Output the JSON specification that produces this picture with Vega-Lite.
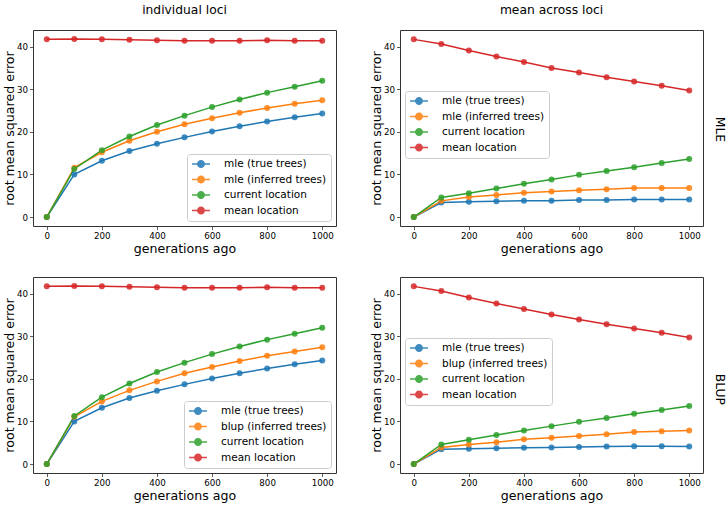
{
  "$schema": "https://vega.github.io/schema/vega-lite/v6.json",
  "padding": {"left": 2, "top": 3, "right": 0, "bottom": 0},
  "config": {
    "font": "DejaVu Sans",
    "view": {"stroke": "#333", "strokeWidth": 1},
    "axis": {"grid": false, "domain": false, "tickColor": "#333", "tickSize": 3.5, "tickWidth": 0.8, "labelFontSize": 8.7, "labelColor": "#000", "labelPadding": 2, "titleFontSize": 12.6, "titleFontWeight": "normal", "titleColor": "#000", "labelFlush": false, "format": "d"},
    "axisX": {"titlePadding": 2},
    "axisY": {"titlePadding": 0},
    "title": {"fontSize": 12.3, "fontWeight": "normal", "offset": 13.7, "color": "#000"},
    "legend": {"fillColor": "white", "strokeColor": "#cccccc", "cornerRadius": 3, "padding": 4, "labelFontSize": 10.5, "labelColor": "#000", "symbolType": "M-1.8,0L1.8,0M-0.65,0A0.65,0.65,0,1,0,0.65,0A0.65,0.65,0,1,0,-0.65,0Z", "symbolSize": 100, "symbolStrokeWidth": 1.5, "symbolOffset": 4, "labelOffset": 17, "rowPadding": 1.5}
  },
  "datasets": {
    "a": [
      {"gen":0,"rmse":0,"series":"mle (true trees)"},{"gen":100,"rmse":10.0,"series":"mle (true trees)"},{"gen":200,"rmse":13.2,"series":"mle (true trees)"},{"gen":300,"rmse":15.5,"series":"mle (true trees)"},{"gen":400,"rmse":17.2,"series":"mle (true trees)"},{"gen":500,"rmse":18.7,"series":"mle (true trees)"},{"gen":600,"rmse":20.1,"series":"mle (true trees)"},{"gen":700,"rmse":21.3,"series":"mle (true trees)"},{"gen":800,"rmse":22.4,"series":"mle (true trees)"},{"gen":900,"rmse":23.4,"series":"mle (true trees)"},{"gen":1000,"rmse":24.3,"series":"mle (true trees)"},
      {"gen":0,"rmse":0,"series":"mle (inferred trees)"},{"gen":100,"rmse":11.6,"series":"mle (inferred trees)"},{"gen":200,"rmse":15.2,"series":"mle (inferred trees)"},{"gen":300,"rmse":17.9,"series":"mle (inferred trees)"},{"gen":400,"rmse":20.0,"series":"mle (inferred trees)"},{"gen":500,"rmse":21.8,"series":"mle (inferred trees)"},{"gen":600,"rmse":23.2,"series":"mle (inferred trees)"},{"gen":700,"rmse":24.5,"series":"mle (inferred trees)"},{"gen":800,"rmse":25.6,"series":"mle (inferred trees)"},{"gen":900,"rmse":26.6,"series":"mle (inferred trees)"},{"gen":1000,"rmse":27.4,"series":"mle (inferred trees)"},
      {"gen":0,"rmse":0,"series":"current location"},{"gen":100,"rmse":11.3,"series":"current location"},{"gen":200,"rmse":15.7,"series":"current location"},{"gen":300,"rmse":18.9,"series":"current location"},{"gen":400,"rmse":21.6,"series":"current location"},{"gen":500,"rmse":23.8,"series":"current location"},{"gen":600,"rmse":25.8,"series":"current location"},{"gen":700,"rmse":27.6,"series":"current location"},{"gen":800,"rmse":29.2,"series":"current location"},{"gen":900,"rmse":30.6,"series":"current location"},{"gen":1000,"rmse":32.0,"series":"current location"},
      {"gen":0,"rmse":41.7,"series":"mean location"},{"gen":100,"rmse":41.8,"series":"mean location"},{"gen":200,"rmse":41.7,"series":"mean location"},{"gen":300,"rmse":41.6,"series":"mean location"},{"gen":400,"rmse":41.5,"series":"mean location"},{"gen":500,"rmse":41.4,"series":"mean location"},{"gen":600,"rmse":41.4,"series":"mean location"},{"gen":700,"rmse":41.4,"series":"mean location"},{"gen":800,"rmse":41.5,"series":"mean location"},{"gen":900,"rmse":41.4,"series":"mean location"},{"gen":1000,"rmse":41.4,"series":"mean location"}
    ],
    "b": [
      {"gen":0,"rmse":0,"series":"mle (true trees)"},{"gen":100,"rmse":3.4,"series":"mle (true trees)"},{"gen":200,"rmse":3.6,"series":"mle (true trees)"},{"gen":300,"rmse":3.7,"series":"mle (true trees)"},{"gen":400,"rmse":3.8,"series":"mle (true trees)"},{"gen":500,"rmse":3.8,"series":"mle (true trees)"},{"gen":600,"rmse":4.0,"series":"mle (true trees)"},{"gen":700,"rmse":4.0,"series":"mle (true trees)"},{"gen":800,"rmse":4.1,"series":"mle (true trees)"},{"gen":900,"rmse":4.1,"series":"mle (true trees)"},{"gen":1000,"rmse":4.1,"series":"mle (true trees)"},
      {"gen":0,"rmse":0,"series":"mle (inferred trees)"},{"gen":100,"rmse":3.8,"series":"mle (inferred trees)"},{"gen":200,"rmse":4.7,"series":"mle (inferred trees)"},{"gen":300,"rmse":5.2,"series":"mle (inferred trees)"},{"gen":400,"rmse":5.7,"series":"mle (inferred trees)"},{"gen":500,"rmse":6.0,"series":"mle (inferred trees)"},{"gen":600,"rmse":6.3,"series":"mle (inferred trees)"},{"gen":700,"rmse":6.5,"series":"mle (inferred trees)"},{"gen":800,"rmse":6.8,"series":"mle (inferred trees)"},{"gen":900,"rmse":6.8,"series":"mle (inferred trees)"},{"gen":1000,"rmse":6.8,"series":"mle (inferred trees)"},
      {"gen":0,"rmse":0,"series":"current location"},{"gen":100,"rmse":4.6,"series":"current location"},{"gen":200,"rmse":5.6,"series":"current location"},{"gen":300,"rmse":6.7,"series":"current location"},{"gen":400,"rmse":7.8,"series":"current location"},{"gen":500,"rmse":8.8,"series":"current location"},{"gen":600,"rmse":9.9,"series":"current location"},{"gen":700,"rmse":10.8,"series":"current location"},{"gen":800,"rmse":11.7,"series":"current location"},{"gen":900,"rmse":12.7,"series":"current location"},{"gen":1000,"rmse":13.6,"series":"current location"},
      {"gen":0,"rmse":41.7,"series":"mean location"},{"gen":100,"rmse":40.6,"series":"mean location"},{"gen":200,"rmse":39.1,"series":"mean location"},{"gen":300,"rmse":37.7,"series":"mean location"},{"gen":400,"rmse":36.4,"series":"mean location"},{"gen":500,"rmse":35.0,"series":"mean location"},{"gen":600,"rmse":33.9,"series":"mean location"},{"gen":700,"rmse":32.8,"series":"mean location"},{"gen":800,"rmse":31.8,"series":"mean location"},{"gen":900,"rmse":30.8,"series":"mean location"},{"gen":1000,"rmse":29.7,"series":"mean location"}
    ],
    "c": [
      {"gen":0,"rmse":0,"series":"mle (true trees)"},{"gen":100,"rmse":10.0,"series":"mle (true trees)"},{"gen":200,"rmse":13.2,"series":"mle (true trees)"},{"gen":300,"rmse":15.5,"series":"mle (true trees)"},{"gen":400,"rmse":17.2,"series":"mle (true trees)"},{"gen":500,"rmse":18.7,"series":"mle (true trees)"},{"gen":600,"rmse":20.1,"series":"mle (true trees)"},{"gen":700,"rmse":21.3,"series":"mle (true trees)"},{"gen":800,"rmse":22.4,"series":"mle (true trees)"},{"gen":900,"rmse":23.4,"series":"mle (true trees)"},{"gen":1000,"rmse":24.3,"series":"mle (true trees)"},
      {"gen":0,"rmse":0,"series":"blup (inferred trees)"},{"gen":100,"rmse":11.1,"series":"blup (inferred trees)"},{"gen":200,"rmse":14.7,"series":"blup (inferred trees)"},{"gen":300,"rmse":17.3,"series":"blup (inferred trees)"},{"gen":400,"rmse":19.4,"series":"blup (inferred trees)"},{"gen":500,"rmse":21.3,"series":"blup (inferred trees)"},{"gen":600,"rmse":22.8,"series":"blup (inferred trees)"},{"gen":700,"rmse":24.2,"series":"blup (inferred trees)"},{"gen":800,"rmse":25.4,"series":"blup (inferred trees)"},{"gen":900,"rmse":26.4,"series":"blup (inferred trees)"},{"gen":1000,"rmse":27.4,"series":"blup (inferred trees)"},
      {"gen":0,"rmse":0,"series":"current location"},{"gen":100,"rmse":11.3,"series":"current location"},{"gen":200,"rmse":15.7,"series":"current location"},{"gen":300,"rmse":18.9,"series":"current location"},{"gen":400,"rmse":21.6,"series":"current location"},{"gen":500,"rmse":23.8,"series":"current location"},{"gen":600,"rmse":25.8,"series":"current location"},{"gen":700,"rmse":27.6,"series":"current location"},{"gen":800,"rmse":29.2,"series":"current location"},{"gen":900,"rmse":30.6,"series":"current location"},{"gen":1000,"rmse":32.0,"series":"current location"},
      {"gen":0,"rmse":41.7,"series":"mean location"},{"gen":100,"rmse":41.8,"series":"mean location"},{"gen":200,"rmse":41.7,"series":"mean location"},{"gen":300,"rmse":41.6,"series":"mean location"},{"gen":400,"rmse":41.5,"series":"mean location"},{"gen":500,"rmse":41.4,"series":"mean location"},{"gen":600,"rmse":41.4,"series":"mean location"},{"gen":700,"rmse":41.4,"series":"mean location"},{"gen":800,"rmse":41.5,"series":"mean location"},{"gen":900,"rmse":41.4,"series":"mean location"},{"gen":1000,"rmse":41.4,"series":"mean location"}
    ],
    "d": [
      {"gen":0,"rmse":0,"series":"mle (true trees)"},{"gen":100,"rmse":3.5,"series":"mle (true trees)"},{"gen":200,"rmse":3.6,"series":"mle (true trees)"},{"gen":300,"rmse":3.7,"series":"mle (true trees)"},{"gen":400,"rmse":3.8,"series":"mle (true trees)"},{"gen":500,"rmse":3.9,"series":"mle (true trees)"},{"gen":600,"rmse":4.0,"series":"mle (true trees)"},{"gen":700,"rmse":4.1,"series":"mle (true trees)"},{"gen":800,"rmse":4.2,"series":"mle (true trees)"},{"gen":900,"rmse":4.2,"series":"mle (true trees)"},{"gen":1000,"rmse":4.1,"series":"mle (true trees)"},
      {"gen":0,"rmse":0,"series":"blup (inferred trees)"},{"gen":100,"rmse":3.9,"series":"blup (inferred trees)"},{"gen":200,"rmse":4.6,"series":"blup (inferred trees)"},{"gen":300,"rmse":5.1,"series":"blup (inferred trees)"},{"gen":400,"rmse":5.8,"series":"blup (inferred trees)"},{"gen":500,"rmse":6.2,"series":"blup (inferred trees)"},{"gen":600,"rmse":6.6,"series":"blup (inferred trees)"},{"gen":700,"rmse":7.0,"series":"blup (inferred trees)"},{"gen":800,"rmse":7.5,"series":"blup (inferred trees)"},{"gen":900,"rmse":7.7,"series":"blup (inferred trees)"},{"gen":1000,"rmse":7.9,"series":"blup (inferred trees)"},
      {"gen":0,"rmse":0,"series":"current location"},{"gen":100,"rmse":4.6,"series":"current location"},{"gen":200,"rmse":5.7,"series":"current location"},{"gen":300,"rmse":6.8,"series":"current location"},{"gen":400,"rmse":7.9,"series":"current location"},{"gen":500,"rmse":8.9,"series":"current location"},{"gen":600,"rmse":9.9,"series":"current location"},{"gen":700,"rmse":10.8,"series":"current location"},{"gen":800,"rmse":11.8,"series":"current location"},{"gen":900,"rmse":12.7,"series":"current location"},{"gen":1000,"rmse":13.6,"series":"current location"},
      {"gen":0,"rmse":41.7,"series":"mean location"},{"gen":100,"rmse":40.6,"series":"mean location"},{"gen":200,"rmse":39.1,"series":"mean location"},{"gen":300,"rmse":37.7,"series":"mean location"},{"gen":400,"rmse":36.4,"series":"mean location"},{"gen":500,"rmse":35.1,"series":"mean location"},{"gen":600,"rmse":33.9,"series":"mean location"},{"gen":700,"rmse":32.8,"series":"mean location"},{"gen":800,"rmse":31.8,"series":"mean location"},{"gen":900,"rmse":30.8,"series":"mean location"},{"gen":1000,"rmse":29.7,"series":"mean location"}
    ]
  },
  "spacing": 20,
  "resolve": {"scale": {"color": "independent"}, "legend": {"color": "independent"}},
  "vconcat": [
    {
      "title": {"text": "MLE", "orient": "right", "offset": 10, "anchor": "middle"},
      "spacing": 32,
      "resolve": {"scale": {"color": "independent"}, "legend": {"color": "independent"}},
      "hconcat": [
        {
          "title": "individual loci",
          "width": 303, "height": 196,
          "data": {"name": "a"},
          "encoding": {
            "x": {"field": "gen", "type": "quantitative", "scale": {"domain": [-50, 1050], "nice": false, "zero": false}, "axis": {"values": [0, 200, 400, 600, 800, 1000], "title": "generations ago"}},
            "y": {"field": "rmse", "type": "quantitative", "scale": {"domain": [-2.1, 43.9], "nice": false, "zero": false}, "axis": {"values": [0, 10, 20, 30, 40], "title": "root mean squared error"}},
            "color": {"field": "series", "type": "nominal", "scale": {"domain": ["mle (true trees)", "mle (inferred trees)", "current location", "mean location"], "range": ["#1f77b4", "#ff7f0e", "#2ca02c", "#d62728"]}, "legend": {"title": null, "orient": "bottom-right", "offset": 5}}
          },
          "layer": [
            {"mark": {"type": "line", "strokeWidth": 1.5}},
            {"mark": {"type": "point", "filled": true, "size": 36, "opacity": 0.85}}
          ]
        },
        {
          "title": "mean across loci",
          "width": 303, "height": 196,
          "data": {"name": "b"},
          "encoding": {
            "x": {"field": "gen", "type": "quantitative", "scale": {"domain": [-50, 1050], "nice": false, "zero": false}, "axis": {"values": [0, 200, 400, 600, 800, 1000], "title": "generations ago"}},
            "y": {"field": "rmse", "type": "quantitative", "scale": {"domain": [-2.1, 43.9], "nice": false, "zero": false}, "axis": {"values": [0, 10, 20, 30, 40], "title": "root mean squared error"}},
            "color": {"field": "series", "type": "nominal", "scale": {"domain": ["mle (true trees)", "mle (inferred trees)", "current location", "mean location"], "range": ["#1f77b4", "#ff7f0e", "#2ca02c", "#d62728"]}, "legend": {"title": null, "orient": "none", "legendX": 5, "legendY": 61}}
          },
          "layer": [
            {"mark": {"type": "line", "strokeWidth": 1.5}},
            {"mark": {"type": "point", "filled": true, "size": 36, "opacity": 0.85}}
          ]
        }
      ]
    },
    {
      "title": {"text": "BLUP", "orient": "right", "offset": 10, "anchor": "middle"},
      "spacing": 32,
      "resolve": {"scale": {"color": "independent"}, "legend": {"color": "independent"}},
      "hconcat": [
        {
          "width": 303, "height": 196,
          "data": {"name": "c"},
          "encoding": {
            "x": {"field": "gen", "type": "quantitative", "scale": {"domain": [-50, 1050], "nice": false, "zero": false}, "axis": {"values": [0, 200, 400, 600, 800, 1000], "title": "generations ago"}},
            "y": {"field": "rmse", "type": "quantitative", "scale": {"domain": [-2.1, 43.9], "nice": false, "zero": false}, "axis": {"values": [0, 10, 20, 30, 40], "title": "root mean squared error"}},
            "color": {"field": "series", "type": "nominal", "scale": {"domain": ["mle (true trees)", "blup (inferred trees)", "current location", "mean location"], "range": ["#1f77b4", "#ff7f0e", "#2ca02c", "#d62728"]}, "legend": {"title": null, "orient": "bottom-right", "offset": 5}}
          },
          "layer": [
            {"mark": {"type": "line", "strokeWidth": 1.5}},
            {"mark": {"type": "point", "filled": true, "size": 36, "opacity": 0.85}}
          ]
        },
        {
          "width": 303, "height": 196,
          "data": {"name": "d"},
          "encoding": {
            "x": {"field": "gen", "type": "quantitative", "scale": {"domain": [-50, 1050], "nice": false, "zero": false}, "axis": {"values": [0, 200, 400, 600, 800, 1000], "title": "generations ago"}},
            "y": {"field": "rmse", "type": "quantitative", "scale": {"domain": [-2.1, 43.9], "nice": false, "zero": false}, "axis": {"values": [0, 10, 20, 30, 40], "title": "root mean squared error"}},
            "color": {"field": "series", "type": "nominal", "scale": {"domain": ["mle (true trees)", "blup (inferred trees)", "current location", "mean location"], "range": ["#1f77b4", "#ff7f0e", "#2ca02c", "#d62728"]}, "legend": {"title": null, "orient": "none", "legendX": 5, "legendY": 61}}
          },
          "layer": [
            {"mark": {"type": "line", "strokeWidth": 1.5}},
            {"mark": {"type": "point", "filled": true, "size": 36, "opacity": 0.85}}
          ]
        }
      ]
    }
  ]
}
